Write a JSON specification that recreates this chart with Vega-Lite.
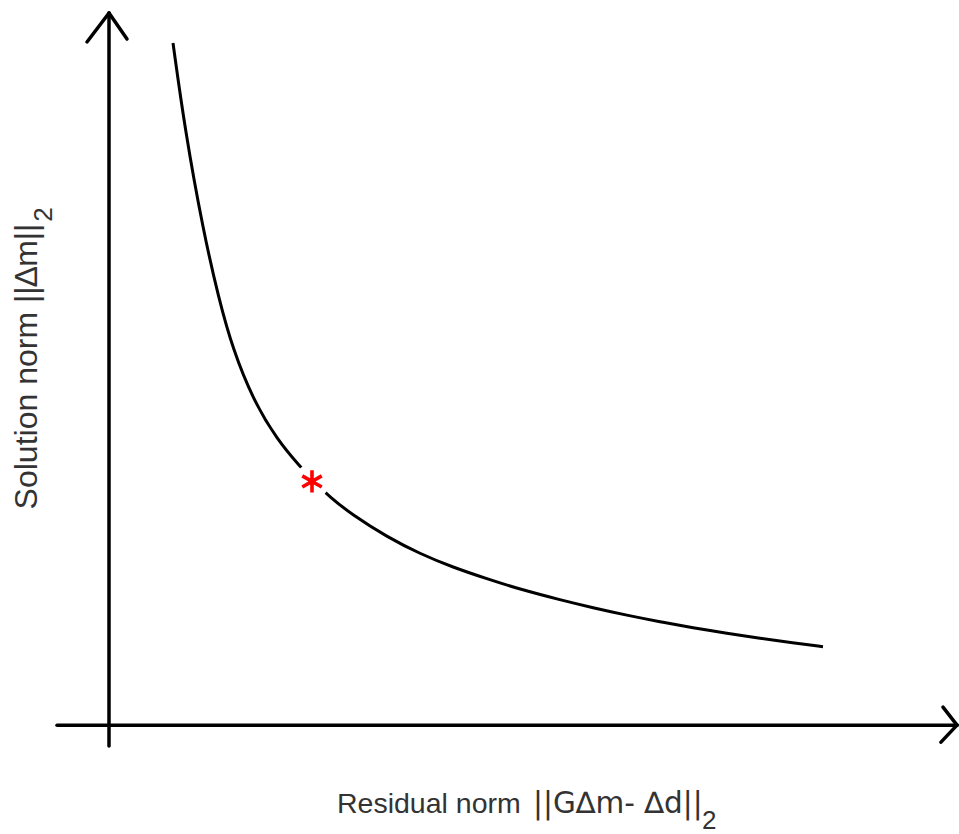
{
  "$schema": "https://vega.github.io/schema/vega-lite/v6.json",
  "width": 959,
  "height": 834,
  "autosize": {"type": "fit", "contains": "padding"},
  "padding": 0,
  "background": "white",
  "config": {"view": {"stroke": null}},
  "datasets": {
    "curve": [
      {"r": 0.64, "s": 6.83}, {"r": 0.76, "s": 5.96}, {"r": 0.94, "s": 4.96},
      {"r": 1.10, "s": 4.26}, {"r": 1.24, "s": 3.76}, {"r": 1.44, "s": 3.26},
      {"r": 1.68, "s": 2.86}, {"r": 1.91, "s": 2.59}, {"r": 2.05, "s": 2.44},
      {"r": 2.20, "s": 2.29}, {"r": 2.44, "s": 2.10}, {"r": 2.78, "s": 1.885},
      {"r": 3.11, "s": 1.715}, {"r": 3.44, "s": 1.58}, {"r": 3.78, "s": 1.465},
      {"r": 4.11, "s": 1.36}, {"r": 4.51, "s": 1.255}, {"r": 4.84, "s": 1.175},
      {"r": 5.18, "s": 1.10}, {"r": 5.51, "s": 1.035}, {"r": 5.84, "s": 0.975},
      {"r": 6.18, "s": 0.92}, {"r": 6.51, "s": 0.87}, {"r": 6.84, "s": 0.825},
      {"r": 7.14, "s": 0.785}
    ],
    "strokes": [
      {"name": "y axis", "x": 0, "y": -0.21, "x2": 0, "y2": 7.13},
      {"name": "y arrow left", "x": 0, "y": 7.13, "x2": -0.22, "y2": 6.84},
      {"name": "y arrow right", "x": 0, "y": 7.13, "x2": 0.18, "y2": 6.87},
      {"name": "x axis", "x": -0.52, "y": 0, "x2": 8.48, "y2": 0},
      {"name": "x arrow top", "x": 8.48, "y": 0, "x2": 8.34, "y2": 0.18},
      {"name": "x arrow bottom", "x": 8.48, "y": 0, "x2": 8.32, "y2": -0.17}
    ],
    "marker": [{"r": 2.03, "s": 2.44}],
    "titles": [
      {"axis": "x", "part": "text", "text": "Residual norm", "x": 2.28, "y": -0.88},
      {"axis": "x", "part": "math", "text": "||G∆m- ∆d||", "x": 4.24, "y": -0.88},
      {"axis": "x", "part": "sub", "text": "2", "x": 5.93, "y": -1.04},
      {"axis": "y", "part": "text", "text": "Solution norm ||∆m||", "x": -0.72, "y": 2.16},
      {"axis": "y", "part": "sub", "text": "2", "x": -0.57, "y": 5.04}
    ]
  },
  "layer": [
    {
      "data": {"name": "strokes"},
      "mark": {"type": "rule", "color": "black", "strokeWidth": 3.5, "strokeCap": "round"},
      "encoding": {
        "x": {"field": "x", "type": "quantitative", "scale": {"domain": [-1.09, 8.5], "nice": false, "zero": false}, "axis": null},
        "y": {"field": "y", "type": "quantitative", "scale": {"domain": [-1.08, 7.26], "nice": false, "zero": false}, "axis": null},
        "x2": {"field": "x2"},
        "y2": {"field": "y2"}
      }
    },
    {
      "data": {"name": "curve"},
      "mark": {"type": "line", "color": "black", "strokeWidth": 3, "interpolate": "basis"},
      "encoding": {
        "x": {"field": "r", "type": "quantitative", "scale": {"domain": [-1.09, 8.5], "nice": false, "zero": false}, "axis": null},
        "y": {"field": "s", "type": "quantitative", "scale": {"domain": [-1.08, 7.26], "nice": false, "zero": false}, "axis": null},
        "order": {"field": "r", "type": "quantitative"}
      }
    },
    {
      "data": {"name": "marker"},
      "mark": {"type": "point", "shape": "circle", "filled": true, "color": "white", "opacity": 1, "size": 1257},
      "encoding": {
        "x": {"field": "r", "type": "quantitative", "scale": {"domain": [-1.09, 8.5], "nice": false, "zero": false}, "axis": null},
        "y": {"field": "s", "type": "quantitative", "scale": {"domain": [-1.08, 7.26], "nice": false, "zero": false}, "axis": null}
      }
    },
    {
      "data": {"name": "marker"},
      "mark": {"type": "point", "shape": "M0,-1L0,1M-0.87,-0.5L0.87,0.5M-0.87,0.5L0.87,-0.5", "filled": false, "stroke": "#ff0000", "strokeWidth": 3.6, "opacity": 1, "size": 500},
      "encoding": {
        "x": {"field": "r", "type": "quantitative", "scale": {"domain": [-1.09, 8.5], "nice": false, "zero": false}, "axis": null},
        "y": {"field": "s", "type": "quantitative", "scale": {"domain": [-1.08, 7.26], "nice": false, "zero": false}, "axis": null}
      }
    },
    {
      "data": {"name": "titles"},
      "transform": [{"filter": "datum.axis === 'x' && datum.part === 'text'"}],
      "mark": {"type": "text", "align": "left", "baseline": "alphabetic", "font": "Liberation Sans", "fontSize": 28.5, "color": "#333333"},
      "encoding": {
        "x": {"field": "x", "type": "quantitative", "scale": {"domain": [-1.09, 8.5], "nice": false, "zero": false}, "axis": null},
        "y": {"field": "y", "type": "quantitative", "scale": {"domain": [-1.08, 7.26], "nice": false, "zero": false}, "axis": null},
        "text": {"field": "text"}
      }
    },
    {
      "data": {"name": "titles"},
      "transform": [{"filter": "datum.axis === 'x' && datum.part === 'math'"}],
      "mark": {"type": "text", "align": "left", "baseline": "alphabetic", "font": "DejaVu Sans", "fontSize": 29.5, "color": "#333333"},
      "encoding": {
        "x": {"field": "x", "type": "quantitative", "scale": {"domain": [-1.09, 8.5], "nice": false, "zero": false}, "axis": null},
        "y": {"field": "y", "type": "quantitative", "scale": {"domain": [-1.08, 7.26], "nice": false, "zero": false}, "axis": null},
        "text": {"field": "text"}
      }
    },
    {
      "data": {"name": "titles"},
      "transform": [{"filter": "datum.axis === 'x' && datum.part === 'sub'"}],
      "mark": {"type": "text", "align": "left", "baseline": "alphabetic", "font": "Liberation Sans", "fontSize": 26, "color": "#333333"},
      "encoding": {
        "x": {"field": "x", "type": "quantitative", "scale": {"domain": [-1.09, 8.5], "nice": false, "zero": false}, "axis": null},
        "y": {"field": "y", "type": "quantitative", "scale": {"domain": [-1.08, 7.26], "nice": false, "zero": false}, "axis": null},
        "text": {"field": "text"}
      }
    },
    {
      "data": {"name": "titles"},
      "transform": [{"filter": "datum.axis === 'y' && datum.part === 'text'"}],
      "mark": {"type": "text", "align": "left", "baseline": "alphabetic", "angle": 270, "font": "Liberation Sans", "fontSize": 32, "color": "#333333"},
      "encoding": {
        "x": {"field": "x", "type": "quantitative", "scale": {"domain": [-1.09, 8.5], "nice": false, "zero": false}, "axis": null},
        "y": {"field": "y", "type": "quantitative", "scale": {"domain": [-1.08, 7.26], "nice": false, "zero": false}, "axis": null},
        "text": {"field": "text"}
      }
    },
    {
      "data": {"name": "titles"},
      "transform": [{"filter": "datum.axis === 'y' && datum.part === 'sub'"}],
      "mark": {"type": "text", "align": "left", "baseline": "alphabetic", "angle": 270, "font": "Liberation Sans", "fontSize": 26, "color": "#333333"},
      "encoding": {
        "x": {"field": "x", "type": "quantitative", "scale": {"domain": [-1.09, 8.5], "nice": false, "zero": false}, "axis": null},
        "y": {"field": "y", "type": "quantitative", "scale": {"domain": [-1.08, 7.26], "nice": false, "zero": false}, "axis": null},
        "text": {"field": "text"}
      }
    }
  ]
}
